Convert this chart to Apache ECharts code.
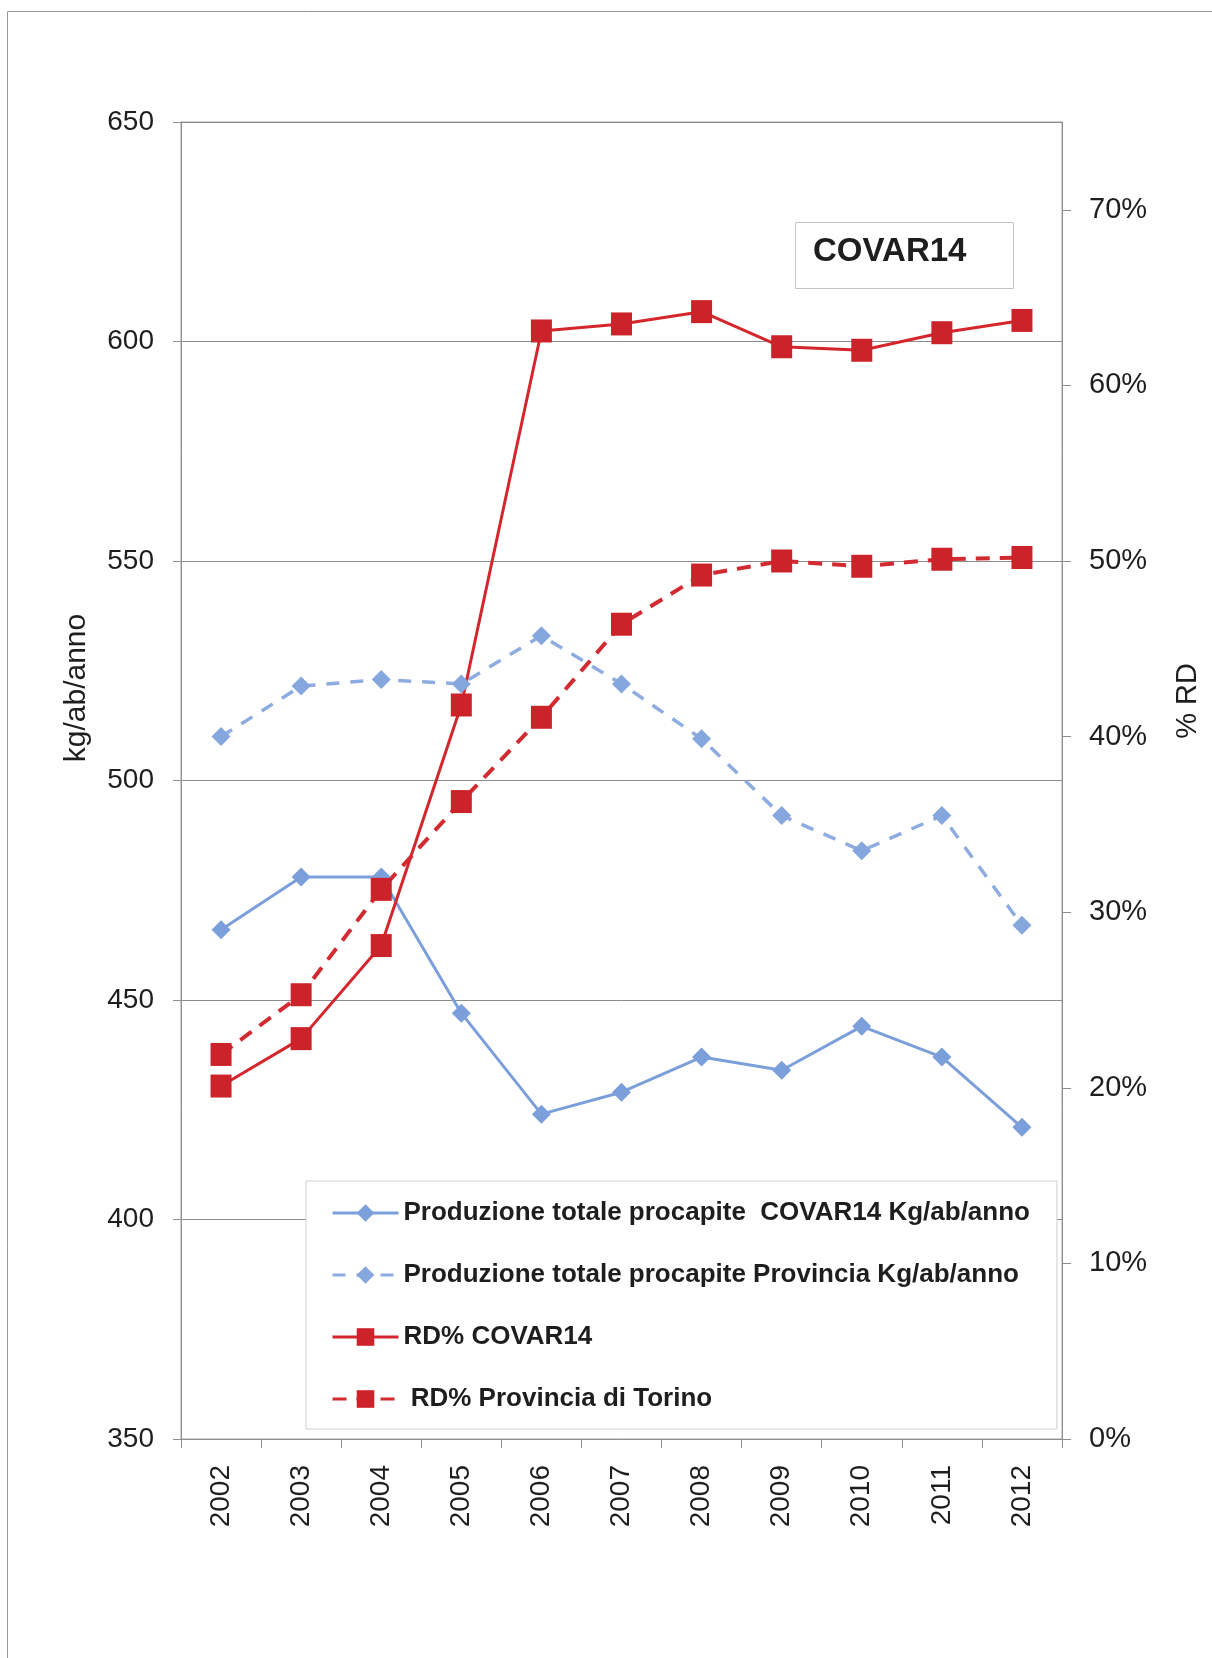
<!DOCTYPE html>
<html>
<head>
<meta charset="utf-8">
<script src="https://cdn.jsdelivr.net/npm/echarts@6/dist/echarts.min.js"></script>
<style>html,body{margin:0;padding:0;background:#fff}#c{width:1212px;height:1658px}</style>
</head>
<body>
<div id="c"></div>
<script>
// ---- data ----
const years = ['2002','2003','2004','2005','2006','2007','2008','2009','2010','2011','2012'];
const covarKg = [466, 478, 478, 447, 424, 429, 437, 434, 444, 437, 421];
const provKg  = [510, 521.5, 523, 522, 533, 522, 509.5, 492, 484, 492, 467];
const covarRD = [0.201, 0.228, 0.281, 0.418, 0.631, 0.635, 0.642, 0.622, 0.620, 0.630, 0.637];
const provRD  = [0.219, 0.253, 0.313, 0.363, 0.411, 0.464, 0.492, 0.500, 0.497, 0.501, 0.502];
const leftTicks  = [350, 400, 450, 500, 550, 600, 650];
const rightTicks = [0, 0.1, 0.2, 0.3, 0.4, 0.5, 0.6, 0.7];
const seriesNames = [
  'Produzione totale procapite  COVAR14 Kg/ab/anno',
  'Produzione totale procapite Provincia Kg/ab/anno',
  'RD% COVAR14',
  ' RD% Provincia di Torino'
];
const titleText = 'COVAR14';
const leftName = 'kg/ab/anno';
const rightName = '% RD';

// ---- chart ----
const FF = "'Liberation Sans', Arial, sans-serif";
const chart = echarts.init(document.getElementById('c'), null, {renderer: 'canvas'});
const axisGray = '#8f8f8f';
const option = {
  animation: false,
  backgroundColor: '#ffffff',
  grid: {left: 181, top: 122, width: 881, height: 1317, show: true,
         borderColor: '#a3a3a3', borderWidth: 1, containLabel: false},
  xAxis: {
    type: 'category', data: years, boundaryGap: true,
    axisLine: {lineStyle: {color: axisGray, width: 1}},
    axisTick: {show: true, length: 9, lineStyle: {color: axisGray}},
    axisLabel: {rotate: 90, margin: 26, fontSize: 28, color: '#1e1e1e', fontFamily: FF}
  },
  yAxis: [{
    type: 'value', min: leftTicks[0], max: leftTicks[leftTicks.length - 1], interval: 50, position: 'left',
    axisLine: {show: true, lineStyle: {color: axisGray, width: 1}},
    axisTick: {show: true, length: 8, lineStyle: {color: axisGray}},
    axisLabel: {margin: 27, fontSize: 28, color: '#1e1e1e', fontFamily: FF},
    splitLine: {show: true, lineStyle: {color: '#8c8c8c', width: 1}}
  }, {
    type: 'value', min: 0, max: 0.75, interval: 0.1, position: 'right',
    axisLine: {show: true, lineStyle: {color: axisGray, width: 1}},
    axisTick: {show: true, length: 9, lineStyle: {color: axisGray}, customValues: rightTicks},
    axisLabel: {margin: 27, fontSize: 29, color: '#1e1e1e', fontFamily: FF, customValues: rightTicks,
                formatter: v => Math.round(v * 100) + '%'},
    splitLine: {show: false}
  }],
  legend: {
    orient: 'vertical', left: 306, top: 1181,
    itemWidth: 66, itemHeight: 22, itemGap: 36,
    padding: [19, 27, 17, 25],
    backgroundColor: '#ffffff', borderColor: '#cfcfcf', borderWidth: 1,
    lineStyle: {width: 3},
    textStyle: {fontSize: 26, fontWeight: 'bold', color: '#1e1e1e', fontFamily: FF},
    data: seriesNames
  },
  series: [{
    name: seriesNames[0], type: 'line', yAxisIndex: 0, data: covarKg,
    symbol: 'diamond', symbolSize: 19,
    lineStyle: {color: '#7B9FDA', width: 3},
    itemStyle: {color: '#7B9FDA'}
  }, {
    name: seriesNames[1], type: 'line', yAxisIndex: 0, data: provKg,
    symbol: 'diamond', symbolSize: 19,
    lineStyle: {color: '#8EACE0', width: 3.5, type: [13, 11]},
    itemStyle: {color: '#86A7DE'}
  }, {
    name: seriesNames[2], type: 'line', yAxisIndex: 1, data: covarRD,
    symbol: 'rect', symbolSize: [21, 23],
    lineStyle: {color: '#D4262C', width: 3},
    itemStyle: {color: '#CC2229'}
  }, {
    name: seriesNames[3], type: 'line', yAxisIndex: 1, data: provRD,
    symbol: 'rect', symbolSize: [21, 23],
    lineStyle: {color: '#D12A30', width: 4, type: [14, 10]},
    itemStyle: {color: '#CC2229'}
  }],
  graphic: [
    {type: 'line', z: 0, shape: {x1: 7.5, y1: 11.5, x2: 1212, y2: 11.5}, style: {stroke: '#9a9a9a', lineWidth: 1}},
    {type: 'line', z: 0, shape: {x1: 7.5, y1: 11.5, x2: 7.5, y2: 1658}, style: {stroke: '#9a9a9a', lineWidth: 1}},
    {type: 'rect', z: 5, shape: {x: 795.5, y: 222.5, width: 218, height: 66},
     style: {fill: '#ffffff', stroke: '#c4c4c4', lineWidth: 1}},
    {type: 'text', z: 6, x: 813, y: 252,
     style: {text: titleText, fontSize: 33, fontWeight: 'bold', fill: '#1e1e1e', fontFamily: FF,
             textAlign: 'left', textVerticalAlign: 'middle'}},
    {type: 'text', z: 6, x: 77, y: 688, rotation: Math.PI / 2,
     style: {text: leftName, fontSize: 30, fill: '#1e1e1e', fontFamily: FF,
             textAlign: 'center', textVerticalAlign: 'middle'}},
    {type: 'text', z: 6, x: 1188, y: 701, rotation: Math.PI / 2,
     style: {text: rightName, fontSize: 29, fill: '#1e1e1e', fontFamily: FF,
             textAlign: 'center', textVerticalAlign: 'middle'}}
  ]
};
chart.setOption(option);
</script>
</body>
</html>
